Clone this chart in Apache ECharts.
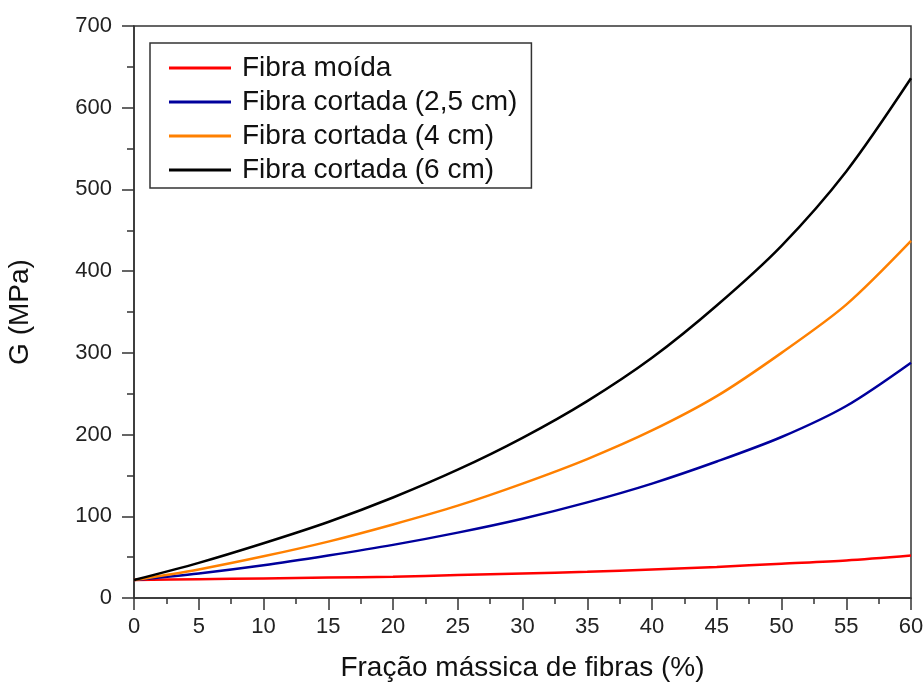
<!DOCTYPE html>
<html>
<head>
<meta charset="utf-8">
<script src="https://cdn.jsdelivr.net/npm/echarts@6/dist/echarts.min.js"></script>
<style>html,body{margin:0;padding:0;background:#fff}#c{width:924px;height:684px}</style>
</head>
<body>
<div id="c"></div>
<script>
const xValues = [0, 5, 10, 15, 20, 25, 30, 35, 40, 45, 50, 55, 60];
const seriesNames = ['Fibra moída', 'Fibra cortada (2,5 cm)', 'Fibra cortada (4 cm)', 'Fibra cortada (6 cm)'];
const moida   = [22, 23, 24, 25, 26, 28, 30, 32, 35, 38, 42, 46, 52];
const cort25  = [22, 30, 40, 52, 65, 80, 97, 117, 140, 167, 197, 235, 288];
const cort4   = [22, 35, 51, 69, 90, 113, 140, 170, 205, 247, 300, 359, 437];
const cort6   = [22, 43, 67, 93, 123, 157, 196, 241, 294, 358, 431, 522, 636];
const colors = ['#ff0000', '#00009c', '#ff8000', '#000000'];
const xTicks = [0, 5, 10, 15, 20, 25, 30, 35, 40, 45, 50, 55, 60];
const yTicks = [0, 100, 200, 300, 400, 500, 600, 700];

const font = 'Liberation Sans, Arial, sans-serif';
const allData = [moida, cort25, cort4, cort6];
const chart = echarts.init(document.getElementById('c'), null, {renderer: 'canvas'});
chart.setOption({
  animation: false,
  backgroundColor: '#fff',
  grid: {left: 134, right: 13, top: 26, bottom: 86, containLabel: false, outerBoundsMode: 'none',
         show: true, borderColor: '#333', borderWidth: 1.5},
  legend: {
    orient: 'vertical', left: 150, top: 43,
    icon: 'rect', itemWidth: 62, itemHeight: 3, itemGap: 6,
    padding: [11, 14, 4, 19],
    borderColor: '#333', borderWidth: 1.5,
    textStyle: {fontFamily: font, fontSize: 28, color: '#111', padding: [0, 0, 0, 6]},
    data: seriesNames
  },
  xAxis: {
    type: 'value', min: xTicks[0], max: xTicks[xTicks.length - 1], interval: 5,
    name: 'Fração mássica de fibras (%)', nameLocation: 'middle', nameGap: 56,
    nameTextStyle: {fontFamily: font, fontSize: 28, color: '#111'},
    axisLine: {show: true, lineStyle: {color: '#333', width: 1.5}},
    axisTick: {show: true, length: 12, lineStyle: {color: '#333', width: 1.5}},
    minorTick: {show: true, splitNumber: 2, length: 6, lineStyle: {color: '#333', width: 1.5}},
    axisLabel: {fontFamily: font, fontSize: 22, color: '#222', margin: 18},
    splitLine: {show: false}
  },
  yAxis: {
    type: 'value', min: yTicks[0], max: yTicks[yTicks.length - 1], interval: 100,
    name: 'G (MPa)', nameLocation: 'middle', nameGap: 100,
    nameTextStyle: {fontFamily: font, fontSize: 28, color: '#111'},
    axisLine: {show: true, lineStyle: {color: '#333', width: 1.5}},
    axisTick: {show: true, length: 12, lineStyle: {color: '#333', width: 1.5}},
    minorTick: {show: true, splitNumber: 2, length: 7, lineStyle: {color: '#333', width: 1.5}},
    axisLabel: {fontFamily: font, fontSize: 22, color: '#222', margin: 22},
    splitLine: {show: false}
  },
  series: seriesNames.map((n, i) => ({
    name: n, type: 'line', smooth: 0.3, showSymbol: false, symbol: 'none',
    color: colors[i],
    lineStyle: {color: colors[i], width: 2.5},
    data: xValues.map((x, j) => [x, allData[i][j]])
  }))
});
</script>
</body>
</html>
